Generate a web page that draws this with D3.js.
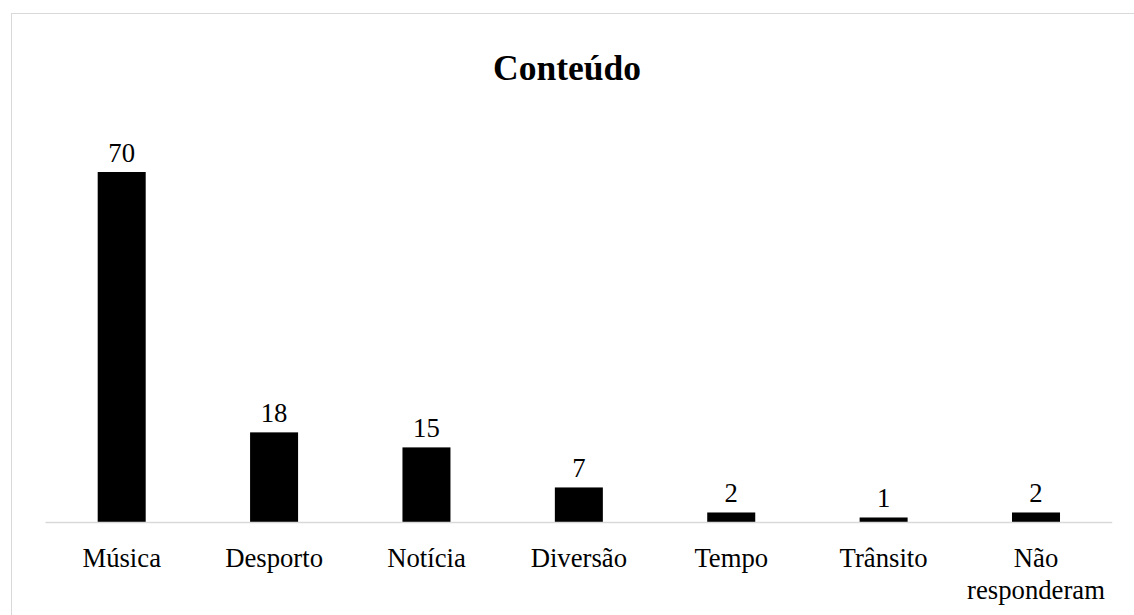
<!DOCTYPE html>
<html><head><meta charset="utf-8">
<script src="https://cdn.jsdelivr.net/npm/d3@7"></script>
<style>html,body{margin:0;padding:0;background:#fff;overflow:hidden}</style>
</head><body>
<script>
const categories = ["Música","Desporto","Notícia","Diversão","Tempo","Trânsito","Não responderam"];
const values = [70,18,15,7,2,1,2];
const title = "Conteúdo";

const W = 1134, H = 615;
const svg = d3.select("body").append("svg").attr("width", W).attr("height", H);
svg.append("rect").attr("x",11.5).attr("y",13.5).attr("width",1140).attr("height",620)
  .attr("fill","#fff").attr("stroke","#d9d9d9").attr("stroke-width",1);

const x = d3.scaleBand().domain(categories).range([45.5,1112.2]).paddingInner(0.685).paddingOuter(0.3425);
const y = d3.scaleLinear().domain([0,70]).range([522.5,172]);
const font = "'Liberation Serif','Times New Roman',serif";

svg.append("text").attr("x",567).attr("y",80).attr("text-anchor","middle")
  .attr("font-family",font).attr("font-weight","bold").attr("font-size",35.5).text(title);

svg.selectAll("rect.bar").data(values).enter().append("rect").attr("class","bar")
  .attr("x",(d,i)=>x(categories[i])).attr("width",x.bandwidth())
  .attr("y",d=>y(d)).attr("height",d=>y(0)-y(d)).attr("fill","#000");

svg.append("line").attr("x1",45.5).attr("x2",1112.2).attr("y1",522.5).attr("y2",522.5)
  .attr("stroke","#d9d9d9").attr("stroke-width",1.3);

svg.selectAll("text.val").data(values).enter().append("text").attr("class","val")
  .attr("x",(d,i)=>x(categories[i])+x.bandwidth()/2).attr("y",d=>y(d)-10)
  .attr("text-anchor","middle").attr("font-family",font).attr("font-size",26.7).text(d=>d);

const xAxis = d3.axisBottom(x).tickSize(0).tickPadding(0);
const g = svg.append("g").attr("transform","translate(0,522.5)").call(xAxis);
g.select(".domain").remove();
g.selectAll(".tick text").remove();
g.selectAll(".tick").each(function(d){
  const t = d3.select(this).append("text").attr("text-anchor","middle").attr("fill","#000")
    .attr("font-family",font).attr("font-size",26.7);
  const parts = d === "Não responderam" ? ["Não","responderam"] : [d];
  parts.forEach((p,k)=>t.append("tspan").attr("x",0).attr("y",44+k*32).text(p));
});
</script>
</body></html>
